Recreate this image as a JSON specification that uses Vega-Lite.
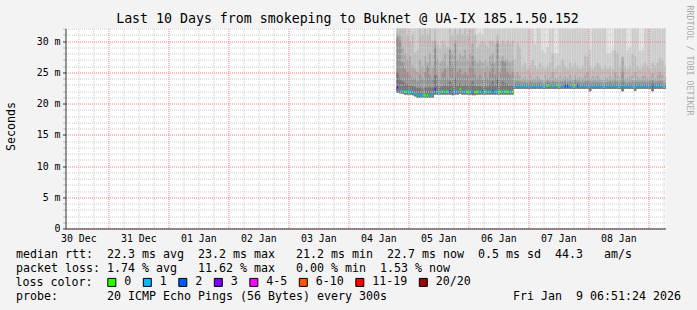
{
 "$schema": "https://vega.github.io/schema/vega-lite/v6.json",
 "width": 600, "height": 200,
 "autosize": {"type": "none"},
 "padding": {"left": 65.5, "top": 28.5, "right": 31.5, "bottom": 81.5},
 "background": "#f3f3f3",
 "config": {
  "font": "DejaVu Sans Mono",
  "view": {"stroke": null, "fill": "#ffffff"},
  "legend": {"padding": 0}
 },
 "title": {"text": "Last 10 Days from smokeping to Buknet @ UA-IX 185.1.50.152", "font": "DejaVu Sans Mono", "fontSize": 13.25, "fontWeight": "normal", "color": "#000000", "anchor": "middle", "frame": "group", "dx": -18, "offset": -21},
 "data": {"values": [
  {"t":"2026-01-04T19:00:00Z","lo":21.8,"s0":32,"s1":32,"s2":32,"s3":31,"s4":30.5,"s5":25,"m":22.6,"loss":"3"},
  {"t":"2026-01-04T20:00:00Z","lo":21.7,"s0":32,"s1":32,"s2":32,"s3":31,"s4":30,"s5":24,"m":22.0,"loss":"1"},
  {"t":"2026-01-04T21:00:00Z","lo":21.6,"s0":32,"s1":32,"s2":32,"s3":29,"s4":26.5,"s5":23.5,"m":22.0,"loss":"1"},
  {"t":"2026-01-04T22:00:00Z","lo":21.5,"s0":32,"s1":32,"s2":32,"s3":28,"s4":25.5,"s5":23.2,"m":21.9,"loss":"0"},
  {"t":"2026-01-04T23:00:00Z","lo":21.5,"s0":32,"s1":32,"s2":31,"s3":27,"s4":25,"s5":23,"m":21.9,"loss":"1"},
  {"t":"2026-01-05T00:00:00Z","lo":21.5,"s0":32,"s1":32,"s2":30,"s3":27.5,"s4":24.5,"s5":23,"m":21.9,"loss":"1"},
  {"t":"2026-01-05T01:00:00Z","lo":21.4,"s0":32,"s1":32,"s2":31,"s3":26,"s4":24,"s5":22.8,"m":21.8,"loss":"1"},
  {"t":"2026-01-05T02:00:00Z","lo":21.2,"s0":32,"s1":32,"s2":28,"s3":25.5,"s4":24,"s5":22.6,"m":21.6,"loss":"1"},
  {"t":"2026-01-05T03:00:00Z","lo":21.0,"s0":32,"s1":32,"s2":28.5,"s3":25,"s4":23.5,"s5":22.4,"m":21.35,"loss":"1"},
  {"t":"2026-01-05T04:00:00Z","lo":21.0,"s0":32,"s1":32,"s2":32,"s3":27,"s4":24.5,"s5":22.5,"m":21.3,"loss":"1"},
  {"t":"2026-01-05T05:00:00Z","lo":21.0,"s0":32,"s1":32,"s2":31,"s3":26,"s4":24,"s5":22.3,"m":21.3,"loss":"1"},
  {"t":"2026-01-05T06:00:00Z","lo":21.0,"s0":32,"s1":32,"s2":32,"s3":27.5,"s4":25,"s5":22.6,"m":21.3,"loss":"0"},
  {"t":"2026-01-05T07:00:00Z","lo":21.0,"s0":32,"s1":32,"s2":31,"s3":26.5,"s4":26,"s5":22.5,"m":21.3,"loss":"0"},
  {"t":"2026-01-05T08:00:00Z","lo":21.0,"s0":32,"s1":32,"s2":32,"s3":28,"s4":24.5,"s5":22.6,"m":21.3,"loss":"1"},
  {"t":"2026-01-05T09:00:00Z","lo":21.0,"s0":32,"s1":32,"s2":30,"s3":26,"s4":24,"s5":22.5,"m":21.35,"loss":"1"},
  {"t":"2026-01-05T10:00:00Z","lo":21.5,"s0":32,"s1":32,"s2":32,"s3":30,"s4":29,"s5":24.5,"m":22.3,"loss":"3"},
  {"t":"2026-01-05T11:00:00Z","lo":21.5,"s0":32,"s1":32,"s2":29.5,"s3":27,"s4":24.5,"s5":22.8,"m":21.9,"loss":"1"},
  {"t":"2026-01-05T12:00:00Z","lo":21.5,"s0":32,"s1":32,"s2":29,"s3":26.5,"s4":24,"s5":22.6,"m":21.9,"loss":"1"},
  {"t":"2026-01-05T13:00:00Z","lo":21.5,"s0":32,"s1":32,"s2":30,"s3":27,"s4":25,"s5":22.8,"m":21.9,"loss":"0"},
  {"t":"2026-01-05T14:00:00Z","lo":21.5,"s0":32,"s1":32,"s2":29.5,"s3":28,"s4":25.5,"s5":23,"m":21.9,"loss":"1"},
  {"t":"2026-01-05T15:00:00Z","lo":21.5,"s0":32,"s1":32,"s2":29,"s3":26,"s4":24,"s5":22.7,"m":21.9,"loss":"0"},
  {"t":"2026-01-05T16:00:00Z","lo":21.5,"s0":32,"s1":32,"s2":32,"s3":29,"s4":28.5,"s5":23.5,"m":21.9,"loss":"2"},
  {"t":"2026-01-05T17:00:00Z","lo":21.4,"s0":32,"s1":32,"s2":31,"s3":28,"s4":26,"s5":23,"m":21.8,"loss":"2"},
  {"t":"2026-01-05T18:00:00Z","lo":21.5,"s0":32,"s1":32,"s2":32,"s3":30,"s4":29.5,"s5":24,"m":21.9,"loss":"1"},
  {"t":"2026-01-05T19:00:00Z","lo":21.5,"s0":32,"s1":32,"s2":31,"s3":27,"s4":25,"s5":22.8,"m":22.0,"loss":"1"},
  {"t":"2026-01-05T20:00:00Z","lo":21.6,"s0":32,"s1":32,"s2":32,"s3":28,"s4":25.5,"s5":23.2,"m":22.3,"loss":"0"},
  {"t":"2026-01-05T21:00:00Z","lo":21.5,"s0":32,"s1":32,"s2":31,"s3":27.5,"s4":24.5,"s5":22.8,"m":21.9,"loss":"1"},
  {"t":"2026-01-05T22:00:00Z","lo":21.5,"s0":32,"s1":32,"s2":32,"s3":28.5,"s4":25,"s5":23,"m":21.9,"loss":"1"},
  {"t":"2026-01-05T23:00:00Z","lo":21.5,"s0":32,"s1":32,"s2":31,"s3":27,"s4":24.5,"s5":22.8,"m":21.9,"loss":"0"},
  {"t":"2026-01-06T00:00:00Z","lo":21.5,"s0":32,"s1":32,"s2":32,"s3":28,"s4":26,"s5":23,"m":21.9,"loss":"1"},
  {"t":"2026-01-06T01:00:00Z","lo":21.4,"s0":32,"s1":32,"s2":32,"s3":29.5,"s4":27.5,"s5":23.5,"m":21.8,"loss":"2"},
  {"t":"2026-01-06T02:00:00Z","lo":21.4,"s0":32,"s1":32,"s2":31,"s3":27,"s4":24.5,"s5":22.8,"m":21.8,"loss":"0"},
  {"t":"2026-01-06T03:00:00Z","lo":21.5,"s0":32,"s1":31,"s2":29,"s3":26.5,"s4":24,"s5":22.7,"m":21.9,"loss":"0"},
  {"t":"2026-01-06T04:00:00Z","lo":21.5,"s0":32,"s1":31.5,"s2":29.5,"s3":27,"s4":24.5,"s5":22.8,"m":21.9,"loss":"1"},
  {"t":"2026-01-06T05:00:00Z","lo":21.5,"s0":32,"s1":31,"s2":30,"s3":26.5,"s4":24,"s5":22.6,"m":21.9,"loss":"2"},
  {"t":"2026-01-06T06:00:00Z","lo":21.5,"s0":32,"s1":32,"s2":29.5,"s3":27,"s4":25,"s5":22.8,"m":21.9,"loss":"0"},
  {"t":"2026-01-06T07:00:00Z","lo":21.5,"s0":32,"s1":32,"s2":29,"s3":26,"s4":24,"s5":22.6,"m":21.9,"loss":"1"},
  {"t":"2026-01-06T08:00:00Z","lo":21.5,"s0":32,"s1":32,"s2":30,"s3":27.5,"s4":25,"s5":23,"m":21.9,"loss":"1"},
  {"t":"2026-01-06T09:00:00Z","lo":21.5,"s0":32,"s1":32,"s2":30,"s3":28,"s4":26.3,"s5":23.5,"m":21.9,"loss":"2"},
  {"t":"2026-01-06T10:00:00Z","lo":21.5,"s0":32,"s1":32,"s2":29.5,"s3":26.5,"s4":24.5,"s5":22.8,"m":21.9,"loss":"1"},
  {"t":"2026-01-06T11:00:00Z","lo":21.5,"s0":32,"s1":32,"s2":31,"s3":30,"s4":29.5,"s5":24,"m":21.9,"loss":"1"},
  {"t":"2026-01-06T12:00:00Z","lo":21.5,"s0":32,"s1":32,"s2":29.5,"s3":27,"s4":25,"s5":23,"m":21.9,"loss":"0"},
  {"t":"2026-01-06T13:00:00Z","lo":21.5,"s0":32,"s1":32,"s2":30,"s3":27.5,"s4":26.8,"s5":23.5,"m":22.0,"loss":"1"},
  {"t":"2026-01-06T14:00:00Z","lo":21.5,"s0":32,"s1":32,"s2":29.5,"s3":27,"s4":26.5,"s5":23.2,"m":21.9,"loss":"0"},
  {"t":"2026-01-06T15:00:00Z","lo":21.5,"s0":32,"s1":32,"s2":30,"s3":27,"s4":25,"s5":23,"m":21.9,"loss":"0"},
  {"t":"2026-01-06T16:00:00Z","lo":21.5,"s0":32,"s1":32,"s2":29.5,"s3":26.5,"s4":24.5,"s5":22.8,"m":21.9,"loss":"1"},
  {"t":"2026-01-06T17:00:00Z","lo":21.5,"s0":32,"s1":32,"s2":30,"s3":27,"s4":25,"s5":23,"m":21.9,"loss":"0"},
  {"t":"2026-01-06T18:00:00Z","lo":22.4,"s0":32,"s1":32,"s2":27,"s3":24.5,"s4":23.5,"s5":23.1,"m":22.8,"loss":"1"},
  {"t":"2026-01-06T19:00:00Z","lo":22.4,"s0":32,"s1":32,"s2":29.5,"s3":25,"s4":23.6,"s5":23.1,"m":22.8,"loss":"1"},
  {"t":"2026-01-06T20:00:00Z","lo":22.4,"s0":32,"s1":32,"s2":29,"s3":24.5,"s4":23.5,"s5":23.0,"m":22.8,"loss":"1"},
  {"t":"2026-01-06T21:00:00Z","lo":22.4,"s0":32,"s1":32,"s2":26,"s3":24,"s4":23.4,"s5":23.0,"m":22.8,"loss":"1"},
  {"t":"2026-01-06T22:00:00Z","lo":22.4,"s0":32,"s1":32,"s2":26.5,"s3":24.2,"s4":23.4,"s5":23.0,"m":22.8,"loss":"1"},
  {"t":"2026-01-06T23:00:00Z","lo":22.4,"s0":32,"s1":32,"s2":25.5,"s3":23.8,"s4":23.3,"s5":23.0,"m":22.8,"loss":"1"},
  {"t":"2026-01-07T00:00:00Z","lo":22.4,"s0":32,"s1":32,"s2":26,"s3":24.5,"s4":23.5,"s5":23.1,"m":22.8,"loss":"1"},
  {"t":"2026-01-07T01:00:00Z","lo":22.4,"s0":32,"s1":32,"s2":27,"s3":24,"s4":23.4,"s5":23.0,"m":22.8,"loss":"1"},
  {"t":"2026-01-07T02:00:00Z","lo":22.4,"s0":32,"s1":29.5,"s2":26,"s3":24,"s4":23.3,"s5":23.0,"m":22.8,"loss":"1"},
  {"t":"2026-01-07T03:00:00Z","lo":22.4,"s0":32,"s1":32,"s2":25.5,"s3":24.3,"s4":23.4,"s5":23.0,"m":22.8,"loss":"1"},
  {"t":"2026-01-07T04:00:00Z","lo":22.4,"s0":32,"s1":32,"s2":26.5,"s3":24,"s4":23.5,"s5":23.1,"m":22.8,"loss":"1"},
  {"t":"2026-01-07T05:00:00Z","lo":22.4,"s0":32,"s1":28.5,"s2":26,"s3":23.8,"s4":23.3,"s5":23.0,"m":22.8,"loss":"1"},
  {"t":"2026-01-07T06:00:00Z","lo":22.4,"s0":32,"s1":28,"s2":25.5,"s3":24.5,"s4":23.4,"s5":23.0,"m":22.8,"loss":"1"},
  {"t":"2026-01-07T07:00:00Z","lo":22.4,"s0":32,"s1":29,"s2":26,"s3":24,"s4":23.6,"s5":23.2,"m":22.9,"loss":"0"},
  {"t":"2026-01-07T08:00:00Z","lo":22.4,"s0":32,"s1":32,"s2":26.5,"s3":24.2,"s4":23.4,"s5":23.0,"m":22.8,"loss":"1"},
  {"t":"2026-01-07T09:00:00Z","lo":22.4,"s0":32,"s1":32,"s2":28,"s3":25,"s4":23.5,"s5":23.1,"m":22.8,"loss":"1"},
  {"t":"2026-01-07T10:00:00Z","lo":22.4,"s0":32,"s1":28,"s2":25.5,"s3":24,"s4":23.4,"s5":23.0,"m":22.8,"loss":"1"},
  {"t":"2026-01-07T11:00:00Z","lo":22.4,"s0":32,"s1":27.9,"s2":26,"s3":24,"s4":23.4,"s5":23.1,"m":22.9,"loss":"0"},
  {"t":"2026-01-07T12:00:00Z","lo":22.4,"s0":32,"s1":32,"s2":26,"s3":24.5,"s4":23.5,"s5":23.0,"m":22.8,"loss":"1"},
  {"t":"2026-01-07T13:00:00Z","lo":22.4,"s0":32,"s1":32,"s2":27,"s3":24,"s4":23.4,"s5":23.0,"m":22.8,"loss":"1"},
  {"t":"2026-01-07T14:00:00Z","lo":22.4,"s0":32,"s1":32,"s2":26,"s3":24.3,"s4":23.6,"s5":23.1,"m":22.8,"loss":"2"},
  {"t":"2026-01-07T15:00:00Z","lo":22.4,"s0":32,"s1":32,"s2":25.5,"s3":24,"s4":23.4,"s5":23.0,"m":22.8,"loss":"2"},
  {"t":"2026-01-07T16:00:00Z","lo":22.4,"s0":32,"s1":32,"s2":26.5,"s3":24.5,"s4":23.5,"s5":23.1,"m":22.8,"loss":"1"},
  {"t":"2026-01-07T17:00:00Z","lo":22.4,"s0":32,"s1":32,"s2":26,"s3":24,"s4":23.4,"s5":23.0,"m":22.8,"loss":"1"},
  {"t":"2026-01-07T18:00:00Z","lo":22.4,"s0":32,"s1":32,"s2":26.5,"s3":24.5,"s4":23.8,"s5":23.2,"m":22.9,"loss":"0"},
  {"t":"2026-01-07T19:00:00Z","lo":22.4,"s0":32,"s1":32,"s2":26,"s3":24,"s4":23.5,"s5":23.1,"m":22.9,"loss":"2"},
  {"t":"2026-01-07T20:00:00Z","lo":22.4,"s0":32,"s1":32,"s2":25.5,"s3":24.2,"s4":23.4,"s5":23.0,"m":22.8,"loss":"1"},
  {"t":"2026-01-07T21:00:00Z","lo":22.4,"s0":32,"s1":32,"s2":26,"s3":24,"s4":23.4,"s5":23.0,"m":22.8,"loss":"1"},
  {"t":"2026-01-07T22:00:00Z","lo":22.4,"s0":32,"s1":32,"s2":27.6,"s3":24.5,"s4":23.5,"s5":23.1,"m":22.8,"loss":"1"},
  {"t":"2026-01-07T23:00:00Z","lo":22.4,"s0":32,"s1":32,"s2":27.5,"s3":25,"s4":23.6,"s5":23.1,"m":22.8,"loss":"1"},
  {"t":"2026-01-08T00:00:00Z","lo":22.0,"s0":32,"s1":28.5,"s2":26,"s3":24,"s4":23.4,"s5":23.0,"m":22.8,"loss":"1"},
  {"t":"2026-01-08T01:00:00Z","lo":22.4,"s0":32,"s1":32,"s2":25.5,"s3":24.3,"s4":23.4,"s5":23.0,"m":22.8,"loss":"1"},
  {"t":"2026-01-08T02:00:00Z","lo":22.4,"s0":32,"s1":32,"s2":26,"s3":24,"s4":23.5,"s5":23.0,"m":22.8,"loss":"1"},
  {"t":"2026-01-08T03:00:00Z","lo":22.4,"s0":32,"s1":32,"s2":26.5,"s3":24.5,"s4":23.4,"s5":23.1,"m":22.8,"loss":"1"},
  {"t":"2026-01-08T04:00:00Z","lo":22.4,"s0":32,"s1":32,"s2":26,"s3":24,"s4":23.4,"s5":23.0,"m":22.8,"loss":"1"},
  {"t":"2026-01-08T05:00:00Z","lo":22.4,"s0":32,"s1":32,"s2":25.5,"s3":23.8,"s4":23.3,"s5":23.0,"m":22.8,"loss":"1"},
  {"t":"2026-01-08T06:00:00Z","lo":22.4,"s0":32,"s1":32,"s2":26,"s3":24.2,"s4":23.4,"s5":23.0,"m":22.8,"loss":"1"},
  {"t":"2026-01-08T07:00:00Z","lo":22.4,"s0":32,"s1":27.9,"s2":25.5,"s3":24,"s4":23.4,"s5":23.0,"m":22.8,"loss":"1"},
  {"t":"2026-01-08T08:00:00Z","lo":22.4,"s0":32,"s1":28,"s2":26,"s3":24.3,"s4":23.5,"s5":23.1,"m":22.8,"loss":"1"},
  {"t":"2026-01-08T09:00:00Z","lo":22.4,"s0":32,"s1":28.5,"s2":25.5,"s3":24,"s4":23.4,"s5":23.0,"m":22.8,"loss":"1"},
  {"t":"2026-01-08T10:00:00Z","lo":22.4,"s0":32,"s1":32,"s2":28.4,"s3":25,"s4":23.6,"s5":23.1,"m":22.8,"loss":"1"},
  {"t":"2026-01-08T11:00:00Z","lo":22.4,"s0":32,"s1":32,"s2":28,"s3":24.5,"s4":23.5,"s5":23.1,"m":22.8,"loss":"1"},
  {"t":"2026-01-08T12:00:00Z","lo":22.4,"s0":32,"s1":32,"s2":26,"s3":24.2,"s4":23.4,"s5":23.0,"m":22.8,"loss":"1"},
  {"t":"2026-01-08T13:00:00Z","lo":22.0,"s0":32,"s1":32,"s2":27.5,"s3":27.3,"s4":25,"s5":23.3,"m":23.0,"loss":"1"},
  {"t":"2026-01-08T14:00:00Z","lo":22.4,"s0":32,"s1":32,"s2":26,"s3":24,"s4":23.4,"s5":23.0,"m":22.8,"loss":"1"},
  {"t":"2026-01-08T15:00:00Z","lo":22.4,"s0":32,"s1":28.5,"s2":25.5,"s3":24,"s4":23.3,"s5":23.0,"m":22.8,"loss":"1"},
  {"t":"2026-01-08T16:00:00Z","lo":22.4,"s0":32,"s1":29,"s2":26,"s3":24.3,"s4":23.4,"s5":23.0,"m":22.8,"loss":"1"},
  {"t":"2026-01-08T17:00:00Z","lo":22.4,"s0":32,"s1":32,"s2":27.9,"s3":24.5,"s4":23.5,"s5":23.1,"m":22.8,"loss":"1"},
  {"t":"2026-01-08T18:00:00Z","lo":22.1,"s0":32,"s1":32,"s2":27.5,"s3":25,"s4":23.6,"s5":23.1,"m":22.8,"loss":"1"},
  {"t":"2026-01-08T19:00:00Z","lo":22.4,"s0":32,"s1":32,"s2":26,"s3":24.2,"s4":23.4,"s5":23.0,"m":22.8,"loss":"1"},
  {"t":"2026-01-08T20:00:00Z","lo":22.4,"s0":32,"s1":28.4,"s2":25.5,"s3":24,"s4":23.4,"s5":23.0,"m":22.8,"loss":"1"},
  {"t":"2026-01-08T21:00:00Z","lo":22.4,"s0":32,"s1":28.5,"s2":26,"s3":24.3,"s4":23.5,"s5":23.0,"m":22.8,"loss":"1"},
  {"t":"2026-01-08T22:00:00Z","lo":22.4,"s0":32,"s1":32,"s2":26.5,"s3":24.5,"s4":23.4,"s5":23.0,"m":22.8,"loss":"1"},
  {"t":"2026-01-08T23:00:00Z","lo":22.4,"s0":32,"s1":32,"s2":26,"s3":24,"s4":23.4,"s5":23.0,"m":22.8,"loss":"1"},
  {"t":"2026-01-09T00:00:00Z","lo":22.4,"s0":32,"s1":32,"s2":25.5,"s3":24.2,"s4":23.5,"s5":23.1,"m":22.8,"loss":"1"},
  {"t":"2026-01-09T01:00:00Z","lo":22.0,"s0":32,"s1":32,"s2":26.5,"s3":24.8,"s4":23.7,"s5":23.2,"m":22.9,"loss":"2"},
  {"t":"2026-01-09T02:00:00Z","lo":22.4,"s0":32,"s1":32,"s2":26,"s3":24,"s4":23.4,"s5":23.0,"m":22.8,"loss":"1"},
  {"t":"2026-01-09T03:00:00Z","lo":22.4,"s0":32,"s1":32,"s2":26.5,"s3":24.5,"s4":23.5,"s5":23.1,"m":22.8,"loss":"1"},
  {"t":"2026-01-09T04:00:00Z","lo":22.4,"s0":32,"s1":32,"s2":27.3,"s3":25,"s4":23.6,"s5":23.1,"m":22.8,"loss":"1"},
  {"t":"2026-01-09T05:00:00Z","lo":22.4,"s0":32,"s1":32,"s2":27,"s3":24.5,"s4":23.5,"s5":23.0,"m":22.8,"loss":"1"},
  {"t":"2026-01-09T06:00:00Z","lo":22.4,"s0":32,"s1":32,"s2":26,"s3":24.2,"s4":23.4,"s5":23.0,"m":22.8,"loss":"1"}
 ]},
 "encoding": {
  "x": {"field": "t", "type": "temporal", "timeUnit": "utcyearmonthdatehours",
   "scale": {"type": "utc", "domain": [{"year": 2025, "month": 12, "date": 30, "hours": 6, "minutes": 51, "seconds": 24, "utc": true}, {"year": 2026, "month": 1, "date": 9, "hours": 6, "minutes": 51, "seconds": 24, "utc": true}]},
   "axis": {
    "orient": "bottom",
    "values": [1767096000000,1767117600000,1767139200000,1767160800000,1767182400000,1767204000000,1767225600000,1767247200000,1767268800000,1767290400000,1767312000000,1767333600000,1767355200000,1767376800000,1767398400000,1767420000000,1767441600000,1767463200000,1767484800000,1767506400000,1767528000000,1767549600000,1767571200000,1767592800000,1767614400000,1767636000000,1767657600000,1767679200000,1767700800000,1767722400000,1767744000000,1767765600000,1767787200000,1767808800000,1767830400000,1767852000000,1767873600000,1767895200000,1767916800000,1767938400000],
    "labelExpr": "utchours(datum.value) == 0 ? utcFormat(datum.value - 43200000, '%d %b') : ''",
    "labelOffset": -30, "labelOverlap": false, "labelFlush": false, "labelBound": false,
    "labelFont": "DejaVu Sans Mono", "labelFontSize": 9.9, "labelColor": "#000000", "labelBaseline": "alphabetic", "labelPadding": 12.5,
    "ticks": false, "domainColor": "#333333",
    "grid": true,
    "gridColor": {"condition": {"test": "utchours(datum.value) == 0", "value": "#f08080"}, "value": "#cccccc"},
    "gridDash": [1, 1],
    "title": ["median rtt:\u00a0\u00a022.3 ms avg\u00a0\u00a023.2 ms max\u00a0\u00a0\u00a021.2 ms min\u00a0\u00a022.7 ms now\u00a0\u00a00.5 ms sd\u00a0\u00a044.3\u00a0\u00a0\u00a0am/s", "packet loss: 1.74 % avg\u00a0\u00a0\u00a011.62 % max\u00a0\u00a0\u00a00.00 % min\u00a0\u00a01.53 % now", "\u200b", "probe:\u00a0\u00a0\u00a0\u00a0\u00a0\u00a0\u00a020 ICMP Echo Pings (56 Bytes) every 300s\u00a0\u00a0\u00a0\u00a0\u00a0\u00a0\u00a0\u00a0\u00a0\u00a0\u00a0\u00a0\u00a0\u00a0\u00a0\u00a0\u00a0\u00a0Fri Jan\u00a0\u00a09 06:51:24 2026"],
    "titleX": -50, "titleY": 29, "titleAlign": "left", "titleBaseline": "alphabetic",
    "titleFont": "DejaVu Sans Mono", "titleFontSize": 11.63, "titleFontWeight": "normal", "titleColor": "#000000", "titleLineHeight": 14,
    "zindex": 1
   }
  }
 },
 "layer": [
  {"mark": {"type": "bar", "fill": "#dcdcdc", "stroke": "#dcdcdc", "strokeWidth": 0.6, "clip": true},
   "encoding": {
    "y": {"field": "lo", "type": "quantitative", "scale": {"domain": [0, 32], "nice": false, "zero": false},
     "axis": {
      "orient": "left",
      "values": [0,1,2,3,4,5,6,7,8,9,10,11,12,13,14,15,16,17,18,19,20,21,22,23,24,25,26,27,28,29,30,31,32],
      "labelExpr": "datum.value == 0 ? '0\u00a0\u00a0' : (datum.value % 5 == 0 ? datum.value + ' m' : '')",
      "labelFont": "DejaVu Sans Mono", "labelFontSize": 9.9, "labelColor": "#000000", "labelPadding": 2.5,
      "labelOverlap": false, "labelBound": false, "labelFlush": false, "labelBaseline": "middle",
      "tickSize": 3,
      "tickColor": {"condition": {"test": "datum.value % 5 == 0", "value": "#333333"}, "value": "#bbbbbb"},
      "grid": true,
      "gridColor": {"condition": {"test": "datum.value % 5 == 0", "value": "#f08080"}, "value": "#cccccc"},
      "gridDash": [1, 1],
      "domainColor": "#333333",
      "title": "Seconds", "titleFont": "DejaVu Sans Mono", "titleFontSize": 11.63, "titleFontWeight": "normal", "titleColor": "#000000",
      "titleX": -54.5, "titleY": 97.5, "titleAngle": -90, "titleAlign": "center", "titleBaseline": "middle",
      "zindex": 1
     }},
    "y2": {"field": "s0"}
   }},
  {"mark": {"type": "bar", "fill": "#cbcbcb", "stroke": "#cbcbcb", "strokeWidth": 0.6, "clip": true},
   "encoding": {"y": {"field": "lo", "type": "quantitative", "axis": null}, "y2": {"field": "s1"}}},
  {"mark": {"type": "bar", "fill": "#b9b9b9", "stroke": "#b9b9b9", "strokeWidth": 0.6, "clip": true},
   "encoding": {"y": {"field": "lo", "type": "quantitative", "axis": null}, "y2": {"field": "s2"}}},
  {"mark": {"type": "bar", "fill": "#a6a6a6", "stroke": "#a6a6a6", "strokeWidth": 0.6, "clip": true},
   "encoding": {"y": {"field": "lo", "type": "quantitative", "axis": null}, "y2": {"field": "s3"}}},
  {"mark": {"type": "bar", "fill": "#919191", "stroke": "#919191", "strokeWidth": 0.6, "clip": true},
   "encoding": {"y": {"field": "lo", "type": "quantitative", "axis": null}, "y2": {"field": "s4"}}},
  {"mark": {"type": "bar", "fill": "#747474", "stroke": "#747474", "strokeWidth": 0.6, "clip": true},
   "encoding": {"y": {"field": "lo", "type": "quantitative", "axis": null}, "y2": {"field": "s5"}}},
  {"mark": {"type": "bar", "yOffset": -1.3, "y2Offset": 1.3, "clip": true},
   "encoding": {
    "y": {"field": "m", "type": "quantitative",
     "axis": {"orient": "right", "labels": false, "ticks": false, "domain": false, "grid": false,
      "title": "RRDTOOL / TOBI OETIKER", "titleAngle": 90, "titleX": 22.5, "titleY": 31.5, "titleAlign": "center", "titleBaseline": "middle",
      "titleFont": "DejaVu Sans Mono", "titleFontSize": 8.3, "titleFontWeight": "normal", "titleColor": "#aaaaaa"}},
    "y2": {"field": "m"},
    "color": {"field": "loss", "type": "nominal",
     "scale": {"domain": ["0", "1", "2", "3", "4-5", "6-10", "11-19", "20/20"], "range": ["#26ff00", "#00b8ff", "#0059ff", "#7e00ff", "#ff00ff", "#ff5500", "#ff0000", "#a10000"]},
     "legend": {"orient": "none", "legendX": -50, "legendY": 248, "direction": "horizontal",
      "title": "loss color:", "titleOrient": "left", "titlePadding": 13.5, "titleFont": "DejaVu Sans Mono", "titleFontSize": 11.63, "titleFontWeight": "normal", "titleColor": "#000000",
      "labelFont": "DejaVu Sans Mono", "labelFontSize": 11.63, "labelColor": "#000000", "labelOffset": 6.5, "columnPadding": 8.5,
      "symbolType": "square", "symbolSize": 64, "symbolStrokeColor": "#000000", "symbolStrokeWidth": 1, "symbolOpacity": 1}}
   }}
 ],
 "resolve": {"axis": {"y": "independent"}}
}
